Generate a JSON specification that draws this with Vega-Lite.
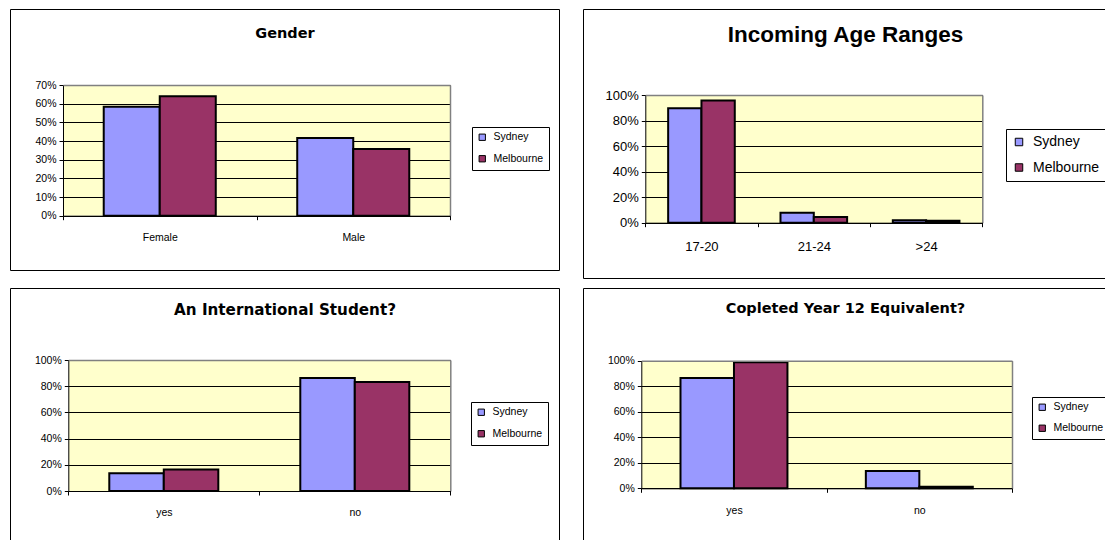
{
  "$schema": "https://vega.github.io/schema/vega-lite/v6.json",
  "background": "white",
  "padding": {"left": 9, "top": 8, "right": 0, "bottom": 0},
  "datasets": {
    "gender": [
      {"cat": "Female", "city": "Sydney", "value": 0.584},
      {"cat": "Female", "city": "Melbourne", "value": 0.640},
      {"cat": "Male", "city": "Sydney", "value": 0.416},
      {"cat": "Male", "city": "Melbourne", "value": 0.357}
    ],
    "age": [
      {"cat": "17-20", "city": "Sydney", "value": 0.896},
      {"cat": "17-20", "city": "Melbourne", "value": 0.956},
      {"cat": "21-24", "city": "Sydney", "value": 0.078},
      {"cat": "21-24", "city": "Melbourne", "value": 0.045},
      {"cat": ">24", "city": "Sydney", "value": 0.02},
      {"cat": ">24", "city": "Melbourne", "value": 0.015}
    ],
    "intl": [
      {"cat": "yes", "city": "Sydney", "value": 0.135},
      {"cat": "yes", "city": "Melbourne", "value": 0.165},
      {"cat": "no", "city": "Sydney", "value": 0.863},
      {"cat": "no", "city": "Melbourne", "value": 0.832}
    ],
    "year12": [
      {"cat": "yes", "city": "Sydney", "value": 0.864},
      {"cat": "yes", "city": "Melbourne", "value": 0.987},
      {"cat": "no", "city": "Sydney", "value": 0.136},
      {"cat": "no", "city": "Melbourne", "value": 0.013}
    ]
  },
  "spacing": 8,
  "resolve": {"scale": {"x": "independent", "y": "independent", "xOffset": "independent", "color": "independent"}, "legend": {"color": "independent"}},
  "vconcat": [
    {
      "spacing": 22,
      "resolve": {"scale": {"x": "independent", "y": "independent", "xOffset": "independent", "color": "independent"}, "legend": {"color": "independent"}},
      "hconcat": [
        {
          "width": 549, "height": 261,
          "data": {"name": "gender"},
          "resolve": {"axis": {"x": "independent", "y": "independent"}},
          "layer": [
            {
              "mark": {"type": "bar", "opacity": 0},
              "encoding": {
                "x": {"field": "cat", "type": "nominal", "sort": ["Female", "Male"], "scale": {"type": "band", "range": [53, 440], "paddingInner": 0, "paddingOuter": 0},
                      "axis": {"orient": "top", "offset": -76, "domainColor": "#808080", "domainWidth": 1.5, "ticks": false, "labels": false, "grid": false, "zindex": 1,
                               "title": "Gender", "titleX": 274.5, "titleY": -52, "titleAlign": "center", "titleBaseline": "middle", "titleAngle": 0, "titleFont": "DejaVu Sans", "titleFontSize": 14.5, "titleFontWeight": "bold", "titleColor": "#000"}},
                "y": {"field": "value", "type": "quantitative", "stack": null, "scale": {"domain": [0, 0.7], "nice": false, "range": [206.7, 76]},
                      "axis": {"orient": "left", "offset": -53, "values": [0.35], "grid": true, "gridColor": "#FFFFCC", "gridWidth": 130.7, "domain": false, "ticks": false, "labels": false, "title": null, "zindex": 0}}
              }
            },
            {
              "mark": {"type": "bar", "stroke": "#000", "strokeWidth": 2},
              "encoding": {
                "x": {"field": "cat", "type": "nominal", "sort": ["Female", "Male"], "scale": {"type": "band", "range": [53, 440], "paddingInner": 0, "paddingOuter": 0},
                      "axis": {"orient": "bottom", "offset": -54.3, "domainColor": "#000", "domainWidth": 1, "tickBand": "extent", "tickColor": "#000", "tickSize": 4, "labelFont": "Liberation Sans", "labelFontSize": 10.5, "labelColor": "#000", "labelPadding": 13, "labelAngle": 0, "grid": false, "title": null, "zindex": 1}},
                "xOffset": {"field": "city", "type": "nominal", "sort": ["Sydney", "Melbourne"], "scale": {"paddingInner": 0, "paddingOuter": 0.727}},
                "y": {"field": "value", "type": "quantitative", "stack": null, "scale": {"domain": [0, 0.7], "nice": false, "range": [206.7, 76]},
                      "axis": {"orient": "left", "offset": -53, "values": [0, 0.1, 0.2, 0.3, 0.4, 0.5, 0.6, 0.7], "format": ".0%", "grid": true, "gridColor": "#000", "gridWidth": 1, "domainColor": "#000", "tickColor": "#000", "tickSize": 4, "labelFont": "Liberation Sans", "labelFontSize": 10.5, "labelColor": "#000", "labelPadding": 3, "title": null, "zindex": 0}},
                "color": {"field": "city", "type": "nominal", "scale": {"domain": ["Sydney", "Melbourne"], "range": ["#9999FF", "#993366"]},
                          "legend": {"orient": "none", "legendX": 462, "legendY": 118, "title": null, "direction": "vertical", "symbolType": "square", "symbolSize": 40, "symbolStrokeColor": "#000", "symbolStrokeWidth": 1, "labelFont": "Liberation Sans", "labelFontSize": 10.5, "labelColor": "#000", "labelOffset": 6, "rowPadding": 10.5, "padding": 5, "strokeColor": "#000", "fillColor": "#fff"}}
              }
            },
            {
              "mark": {"type": "bar", "opacity": 0},
              "encoding": {
                "x": {"field": "cat", "type": "nominal", "sort": ["Female", "Male"], "scale": {"type": "band", "range": [53, 440], "paddingInner": 0, "paddingOuter": 0}, "axis": null},
                "y": {"field": "value", "type": "quantitative", "stack": null, "scale": {"domain": [0, 0.7], "nice": false, "range": [206.7, 76]},
                      "axis": {"orient": "right", "offset": -109, "grid": false, "domainColor": "#808080", "domainWidth": 1.5, "ticks": false, "labels": false, "title": null, "zindex": 0}}
              }
            }
          ]
        },
        {
          "width": 524, "height": 269,
          "data": {"name": "age"},
          "resolve": {"axis": {"x": "independent", "y": "independent"}},
          "layer": [
            {
              "mark": {"type": "bar", "opacity": 0},
              "encoding": {
                "x": {"field": "cat", "type": "nominal", "sort": ["17-20", "21-24", ">24"], "scale": {"type": "band", "range": [62.3, 399.3], "paddingInner": 0, "paddingOuter": 0},
                      "axis": {"orient": "top", "offset": -86, "domainColor": "#808080", "domainWidth": 1.5, "ticks": false, "labels": false, "grid": false, "zindex": 1,
                               "title": "Incoming Age Ranges", "titleX": 262, "titleY": -61, "titleAlign": "center", "titleBaseline": "middle", "titleAngle": 0, "titleFont": "Liberation Sans", "titleFontSize": 22.5, "titleFontWeight": "bold", "titleColor": "#000"}},
                "y": {"field": "value", "type": "quantitative", "stack": null, "scale": {"domain": [0, 1], "nice": false, "range": [213.7, 86]},
                      "axis": {"orient": "left", "offset": -62.3, "values": [0.5], "grid": true, "gridColor": "#FFFFCC", "gridWidth": 127.7, "domain": false, "ticks": false, "labels": false, "title": null, "zindex": 0}}
              }
            },
            {
              "mark": {"type": "bar", "stroke": "#000", "strokeWidth": 2},
              "encoding": {
                "x": {"field": "cat", "type": "nominal", "sort": ["17-20", "21-24", ">24"], "scale": {"type": "band", "range": [62.3, 399.3], "paddingInner": 0, "paddingOuter": 0},
                      "axis": {"orient": "bottom", "offset": -55.3, "domainColor": "#000", "domainWidth": 1, "tickBand": "extent", "tickColor": "#000", "tickSize": 4, "labelFont": "Liberation Sans", "labelFontSize": 13, "labelColor": "#000", "labelPadding": 14, "labelAngle": 0, "grid": false, "title": null, "zindex": 1}},
                "xOffset": {"field": "city", "type": "nominal", "sort": ["Sydney", "Melbourne"], "scale": {"paddingInner": 0, "paddingOuter": 0.686}},
                "y": {"field": "value", "type": "quantitative", "stack": null, "scale": {"domain": [0, 1], "nice": false, "range": [213.7, 86]},
                      "axis": {"orient": "left", "offset": -62.3, "values": [0, 0.2, 0.4, 0.6, 0.8, 1], "format": ".0%", "grid": true, "gridColor": "#000", "gridWidth": 1, "domainColor": "#000", "tickColor": "#000", "tickSize": 4, "labelFont": "Liberation Sans", "labelFontSize": 13, "labelColor": "#000", "labelPadding": 3, "title": null, "zindex": 0}},
                "color": {"field": "city", "type": "nominal", "scale": {"domain": ["Sydney", "Melbourne"], "range": ["#9999FF", "#993366"]},
                          "legend": {"orient": "none", "legendX": 423, "legendY": 120, "title": null, "direction": "vertical", "symbolType": "square", "symbolSize": 56, "symbolStrokeColor": "#000", "symbolStrokeWidth": 1, "labelFont": "Liberation Sans", "labelFontSize": 14, "labelColor": "#000", "labelOffset": 7, "rowPadding": 11.5, "padding": 6, "strokeColor": "#000", "fillColor": "#fff"}}
              }
            },
            {
              "mark": {"type": "bar", "opacity": 0},
              "encoding": {
                "x": {"field": "cat", "type": "nominal", "sort": ["17-20", "21-24", ">24"], "scale": {"type": "band", "range": [62.3, 399.3], "paddingInner": 0, "paddingOuter": 0}, "axis": null},
                "y": {"field": "value", "type": "quantitative", "stack": null, "scale": {"domain": [0, 1], "nice": false, "range": [213.7, 86]},
                      "axis": {"orient": "right", "offset": -124.7, "grid": false, "domainColor": "#808080", "domainWidth": 1.5, "ticks": false, "labels": false, "title": null, "zindex": 0}}
              }
            }
          ]
        }
      ]
    },
    {
      "spacing": 22,
      "resolve": {"scale": {"x": "independent", "y": "independent", "xOffset": "independent", "color": "independent"}, "legend": {"color": "independent"}},
      "hconcat": [
        {
          "width": 549, "height": 252,
          "data": {"name": "intl"},
          "resolve": {"axis": {"x": "independent", "y": "independent"}},
          "layer": [
            {
              "mark": {"type": "bar", "opacity": 0},
              "encoding": {
                "x": {"field": "cat", "type": "nominal", "sort": ["yes", "no"], "scale": {"type": "band", "range": [58.3, 440.3], "paddingInner": 0, "paddingOuter": 0},
                      "axis": {"orient": "top", "offset": -72, "domainColor": "#808080", "domainWidth": 1.5, "ticks": false, "labels": false, "grid": false, "zindex": 1,
                               "title": "An International Student?", "titleX": 274.5, "titleY": -51, "titleAlign": "center", "titleBaseline": "middle", "titleAngle": 0, "titleFont": "DejaVu Sans", "titleFontSize": 15.2, "titleFontWeight": "bold", "titleColor": "#000"}},
                "y": {"field": "value", "type": "quantitative", "stack": null, "scale": {"domain": [0, 1], "nice": false, "range": [203, 72]},
                      "axis": {"orient": "left", "offset": -58.3, "values": [0.5], "grid": true, "gridColor": "#FFFFCC", "gridWidth": 131, "domain": false, "ticks": false, "labels": false, "title": null, "zindex": 0}}
              }
            },
            {
              "mark": {"type": "bar", "stroke": "#000", "strokeWidth": 2},
              "encoding": {
                "x": {"field": "cat", "type": "nominal", "sort": ["yes", "no"], "scale": {"type": "band", "range": [58.3, 440.3], "paddingInner": 0, "paddingOuter": 0},
                      "axis": {"orient": "bottom", "offset": -49, "domainColor": "#000", "domainWidth": 1, "tickBand": "extent", "tickColor": "#000", "tickSize": 4, "labelFont": "Liberation Sans", "labelFontSize": 10.5, "labelColor": "#000", "labelPadding": 12, "labelAngle": 0, "grid": false, "title": null, "zindex": 1}},
                "xOffset": {"field": "city", "type": "nominal", "sort": ["Sydney", "Melbourne"], "scale": {"paddingInner": 0, "paddingOuter": 0.752}},
                "y": {"field": "value", "type": "quantitative", "stack": null, "scale": {"domain": [0, 1], "nice": false, "range": [203, 72]},
                      "axis": {"orient": "left", "offset": -58.3, "values": [0, 0.2, 0.4, 0.6, 0.8, 1], "format": ".0%", "grid": true, "gridColor": "#000", "gridWidth": 1, "domainColor": "#000", "tickColor": "#000", "tickSize": 4, "labelFont": "Liberation Sans", "labelFontSize": 10.5, "labelColor": "#000", "labelPadding": 3, "title": null, "zindex": 0}},
                "color": {"field": "city", "type": "nominal", "scale": {"domain": ["Sydney", "Melbourne"], "range": ["#9999FF", "#993366"]},
                          "legend": {"orient": "none", "legendX": 461, "legendY": 114, "title": null, "direction": "vertical", "symbolType": "square", "symbolSize": 40, "symbolStrokeColor": "#000", "symbolStrokeWidth": 1, "labelFont": "Liberation Sans", "labelFontSize": 10.5, "labelColor": "#000", "labelOffset": 6, "rowPadding": 10.5, "padding": 5, "strokeColor": "#000", "fillColor": "#fff"}}
              }
            },
            {
              "mark": {"type": "bar", "opacity": 0},
              "encoding": {
                "x": {"field": "cat", "type": "nominal", "sort": ["yes", "no"], "scale": {"type": "band", "range": [58.3, 440.3], "paddingInner": 0, "paddingOuter": 0}, "axis": null},
                "y": {"field": "value", "type": "quantitative", "stack": null, "scale": {"domain": [0, 1], "nice": false, "range": [203, 72]},
                      "axis": {"orient": "right", "offset": -108.7, "grid": false, "domainColor": "#808080", "domainWidth": 1.5, "ticks": false, "labels": false, "title": null, "zindex": 0}}
              }
            }
          ]
        },
        {
          "width": 524, "height": 252,
          "data": {"name": "year12"},
          "resolve": {"axis": {"x": "independent", "y": "independent"}},
          "layer": [
            {
              "mark": {"type": "bar", "opacity": 0},
              "encoding": {
                "x": {"field": "cat", "type": "nominal", "sort": ["yes", "no"], "scale": {"type": "band", "range": [58.3, 429], "paddingInner": 0, "paddingOuter": 0},
                      "axis": {"orient": "top", "offset": -72.7, "domainColor": "#808080", "domainWidth": 1.5, "ticks": false, "labels": false, "grid": false, "zindex": 1,
                               "title": "Copleted Year 12 Equivalent?", "titleX": 262, "titleY": -52.7, "titleAlign": "center", "titleBaseline": "middle", "titleAngle": 0, "titleFont": "DejaVu Sans", "titleFontSize": 14.5, "titleFontWeight": "bold", "titleColor": "#000"}},
                "y": {"field": "value", "type": "quantitative", "stack": null, "scale": {"domain": [0, 1], "nice": false, "range": [200.3, 72.7]},
                      "axis": {"orient": "left", "offset": -58.3, "values": [0.5], "grid": true, "gridColor": "#FFFFCC", "gridWidth": 127.6, "domain": false, "ticks": false, "labels": false, "title": null, "zindex": 0}}
              }
            },
            {
              "mark": {"type": "bar", "stroke": "#000", "strokeWidth": 2},
              "encoding": {
                "x": {"field": "cat", "type": "nominal", "sort": ["yes", "no"], "scale": {"type": "band", "range": [58.3, 429], "paddingInner": 0, "paddingOuter": 0},
                      "axis": {"orient": "bottom", "offset": -51.7, "domainColor": "#000", "domainWidth": 1, "tickBand": "extent", "tickColor": "#000", "tickSize": 4, "labelFont": "Liberation Sans", "labelFontSize": 10.5, "labelColor": "#000", "labelPadding": 13, "labelAngle": 0, "grid": false, "title": null, "zindex": 1}},
                "xOffset": {"field": "city", "type": "nominal", "sort": ["Sydney", "Melbourne"], "scale": {"paddingInner": 0, "paddingOuter": 0.733}},
                "y": {"field": "value", "type": "quantitative", "stack": null, "scale": {"domain": [0, 1], "nice": false, "range": [200.3, 72.7]},
                      "axis": {"orient": "left", "offset": -58.3, "values": [0, 0.2, 0.4, 0.6, 0.8, 1], "format": ".0%", "grid": true, "gridColor": "#000", "gridWidth": 1, "domainColor": "#000", "tickColor": "#000", "tickSize": 4, "labelFont": "Liberation Sans", "labelFontSize": 10.5, "labelColor": "#000", "labelPadding": 3, "title": null, "zindex": 0}},
                "color": {"field": "city", "type": "nominal", "scale": {"domain": ["Sydney", "Melbourne"], "range": ["#9999FF", "#993366"]},
                          "legend": {"orient": "none", "legendX": 449, "legendY": 109, "title": null, "direction": "vertical", "symbolType": "square", "symbolSize": 40, "symbolStrokeColor": "#000", "symbolStrokeWidth": 1, "labelFont": "Liberation Sans", "labelFontSize": 10.5, "labelColor": "#000", "labelOffset": 6, "rowPadding": 10, "padding": 5, "strokeColor": "#000", "fillColor": "#fff"}}
              }
            },
            {
              "mark": {"type": "bar", "opacity": 0},
              "encoding": {
                "x": {"field": "cat", "type": "nominal", "sort": ["yes", "no"], "scale": {"type": "band", "range": [58.3, 429], "paddingInner": 0, "paddingOuter": 0}, "axis": null},
                "y": {"field": "value", "type": "quantitative", "stack": null, "scale": {"domain": [0, 1], "nice": false, "range": [200.3, 72.7]},
                      "axis": {"orient": "right", "offset": -95, "grid": false, "domainColor": "#808080", "domainWidth": 1.5, "ticks": false, "labels": false, "title": null, "zindex": 0}}
              }
            }
          ]
        }
      ]
    }
  ],
  "config": {
    "view": {"stroke": "#000", "strokeWidth": 1, "fill": "#fff"}
  }
}
